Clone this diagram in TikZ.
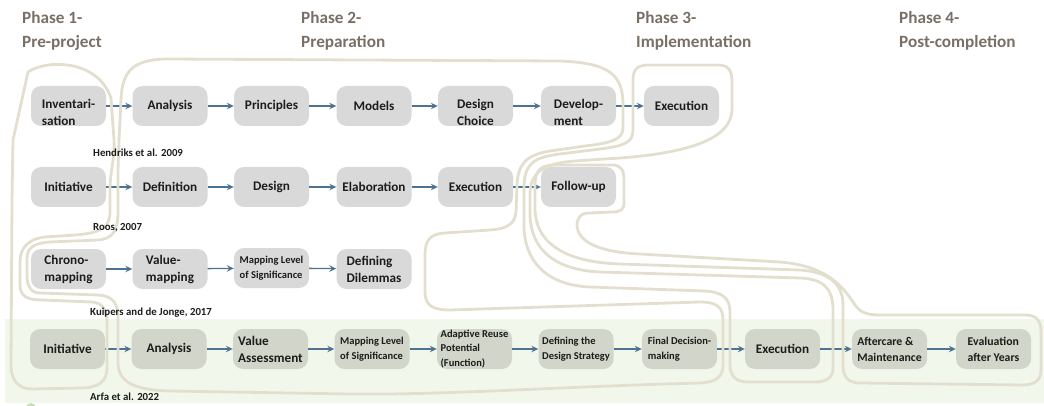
\documentclass[tikz,border=0pt]{standalone}
\usepackage{fontspec}
\setmainfont{Carlito}
\usetikzlibrary{arrows.meta}
\definecolor{boxgray}{RGB}{217,217,217}
\definecolor{boxgreen}{RGB}{209,213,202}
\definecolor{bandc}{RGB}{242,247,235}
\definecolor{loopc}{RGB}{227,223,207}
\definecolor{arrowc}{RGB}{76,116,146}
\definecolor{phasec}{RGB}{122,111,100}
\definecolor{txtc}{RGB}{28,28,28}
\definecolor{dotc}{RGB}{200,224,178}
\newcommand\hangtext[1]{\begin{tabular}[t]{@{}l@{}}#1\end{tabular}}
\begin{document}
\begin{tikzpicture}[x=1pt,y=-1pt,
  box/.style={fill=boxgray, rounded corners=10pt, minimum width=75pt, minimum height=40pt, inner sep=1pt, text=txtc, align=left, font=\bfseries\fontsize{13.2}{17}\selectfont},
  gbox/.style={box, fill=boxgreen},
  hang/.style={text height=9pt, text depth=3pt},
  fsmall/.style={font=\bfseries\fontsize{10.5}{14.5}\selectfont},
  fmid/.style={font=\bfseries\fontsize{11.8}{16}\selectfont},
  cite/.style={anchor=west, inner sep=0pt, text=txtc, font=\bfseries\fontsize{10.8}{13}\selectfont},
  phase/.style={anchor=west, inner sep=0pt, text=phasec, align=left, font=\bfseries\fontsize{17.2}{24}\selectfont},
  arr/.style={draw=arrowc, line width=1.3pt, -{Stealth[length=7pt,width=6.5pt,inset=2.5pt]}},
  ph/.style={draw=loopc, line width=2.8pt, line join=round},
]
\useasboundingbox (0,0) rectangle (1044,406);
% green band
\fill[bandc] (5,319) rectangle (1044,403);
\fill[dotc] (31,408) circle (5pt);

% phase titles
\node[phase] (p1) at (22,31) {Phase 1-\\Pre-project};
\node[phase] (p2) at (301,31) {Phase 2-\\Preparation};
\node[phase] (p3) at (636,31) {Phase 3-\\Implementation};
\node[phase] (p4) at (899,31) {Phase 4-\\Post-completion};

% row 1
\node[box,hang] (a1) at (68.5,106) {\hangtext{Inventari-\\sation}};
\node[box] (a2) at (170,106) {Analysis};
\node[box] (a3) at (271.5,106) {Principles};
\node[box] (a4) at (374,106) {Models};
\node[box,hang] (a5) at (475.5,106) {\hangtext{Design\\Choice}};
\node[box,hang] (a6) at (578.5,106) {\hangtext{Develop-\\ment}};
\node[box] (a7) at (681.5,106) {Execution};
% row 2
\node[box] (b1) at (68.5,187) {Initiative};
\node[box] (b2) at (170,187) {Definition};
\node[box] (b3) at (271.5,187) {Design};
\node[box] (b4) at (374,187) {Elaboration};
\node[box] (b5) at (475.5,187) {Execution};
\node[box] (b6) at (578.5,187) {Follow-up};
% row 3
\node[box] (c1) at (68.5,269) {Chrono-\\mapping};
\node[box] (c2) at (170,269) {Value-\\mapping};
\node[box,fsmall] (c3) at (271.5,268) {Mapping Level\\of Significance};
\node[box] (c4) at (374,269) {Defining\\Dilemmas};
% row 4
\node[gbox] (d1) at (67.5,349) {Initiative};
\node[gbox] (d2) at (169,349) {Analysis};
\node[gbox] (d3) at (270.5,349) {Value\\Assessment};
\node[gbox,fsmall] (d4) at (372,349) {Mapping Level\\of Significance};
\node[gbox,fsmall] (d5) at (474.5,349) {Adaptive Reuse\\Potential\\(Function)};
\node[gbox,fsmall] (d6) at (576,349) {Defining the\\Design Strategy};
\node[gbox,fsmall] (d7) at (679.5,349) {Final Decision-\\making};
\node[gbox] (d8) at (782.5,349) {Execution};
\node[gbox,fmid] (d9) at (889.5,349) {Aftercare \&\\Maintenance};
\node[gbox,fmid] (d10) at (993.5,349) {Evaluation\\after Years};

% arrows
\foreach \s/\t in {a1/a2,a2/a3,a3/a4,a4/a5,a5/a6,a6/a7,
                   b1/b2,b2/b3,b3/b4,b4/b5,b5/b6,
                   c1/c2,c2/c3,c3/c4,
                   d1/d2,d2/d3,d3/d4,d4/d5,d5/d6,d6/d7,d7/d8,d8/d9,d9/d10}
  \draw[arr] (\s) -- (\t);

% Phase 1 outline
\draw[ph] (13,140) -- (28,72) .. controls (45,60) and (97,58) .. (111,98) -- (114,140)
  .. controls (115,160) and (110,170) .. (110,190) -- (110,212)
  .. controls (110,228) and (100,233) .. (75,235) -- (45,237)
  .. controls (28,239) and (20,248) .. (20,262) -- (20,285)
  .. controls (20,296) and (27,300) .. (42,300) -- (92,302)
  .. controls (103,303) and (107,310) .. (107,322) -- (107,368)
  .. controls (107,382) and (98,388) .. (80,388) -- (32,389)
  .. controls (18,389) and (11,380) .. (11,365) -- (12,200) -- cycle;

% Phase 2 outline
\draw[ph] (119,140) -- (121,100) .. controls (122,72) and (132,60) .. (165,59) -- (560,61)
  .. controls (610,63) and (623,75) .. (623,105) -- (623,128)
  .. controls (623,140) and (610,143) .. (585,146) -- (550,151)
  .. controls (525,155) and (518,165) .. (517,185) -- (516,212)
  .. controls (515,225) and (505,229) .. (490,230) -- (445,233)
  .. controls (430,234) and (425,240) .. (425,255) -- (425,292)
  .. controls (425,305) and (432,310) .. (450,310) -- (700,302)
  .. controls (718,302) and (723,308) .. (723,320) -- (723,365)
  .. controls (723,378) and (715,382) .. (700,383)
  .. controls (550,387) and (450,395) .. (350,394) -- (170,391)
  .. controls (130,390) and (118,380) .. (118,362) -- (118,318)
  .. controls (118,302) and (112,296) .. (98,295) -- (40,293)
  .. controls (31,293) and (27,286) .. (27,276) -- (27,258)
  .. controls (27,248) and (34,243) .. (50,242) -- (98,240)
  .. controls (113,239) and (118,230) .. (118,212) -- (118,175)
  .. controls (118,160) and (119,150) .. (119,140) -- cycle;

% Phase 3 outline
\draw[ph] (633,80) .. controls (633,68) and (638,65) .. (650,65) -- (718,65)
  .. controls (728,65) and (732,70) .. (732,82) -- (732,110)
  .. controls (731,135) and (700,152) .. (620,158) -- (575,161)
  .. controls (545,163) and (531,172) .. (530,192) -- (530,215)
  .. controls (531,250) and (555,270) .. (600,272) -- (800,278)
  .. controls (825,279) and (833,290) .. (833,310) -- (833,368)
  .. controls (833,378) and (826,382) .. (815,382) -- (748,382)
  .. controls (736,382) and (730,376) .. (730,365) -- (730,312)
  .. controls (730,298) and (722,292) .. (705,291) -- (590,287)
  .. controls (545,285) and (524,260) .. (524,225) -- (524,185)
  .. controls (525,163) and (535,157) .. (560,154) -- (600,149)
  .. controls (625,146) and (633,142) .. (633,130) -- cycle;

% Phase 4 outline
\draw[ph] (535,185) .. controls (535,170) and (541,165) .. (555,165) -- (612,165)
  .. controls (621,165) and (624,170) .. (624,180) -- (624,203)
  .. controls (624,210) and (620,212) .. (612,212) -- (590,213)
  .. controls (580,213) and (577,218) .. (577,226)
  .. controls (578,240) and (595,252) .. (640,254) -- (780,262)
  .. controls (830,266) and (845,290) .. (855,305)
  .. controls (860,312) and (866,315) .. (880,315) -- (1025,315)
  .. controls (1036,315) and (1041,320) .. (1041,332) -- (1041,370)
  .. controls (1041,380) and (1035,385) .. (1022,385) -- (860,383)
  .. controls (848,383) and (843,377) .. (843,365) -- (843,305)
  .. controls (843,285) and (830,272) .. (800,270) -- (620,264)
  .. controls (560,262) and (536,240) .. (535,210) -- cycle;

% citations
\node[cite] (t1) at (93,153) {Hendriks et al. 2009};
\node[cite] (t2) at (93,228) {Roos, 2007};
\node[cite] (t3) at (90,313) {Kuipers and de Jonge, 2017};
\node[cite] (t4) at (90,397) {Arfa et al. 2022};
\end{tikzpicture}
\end{document}
